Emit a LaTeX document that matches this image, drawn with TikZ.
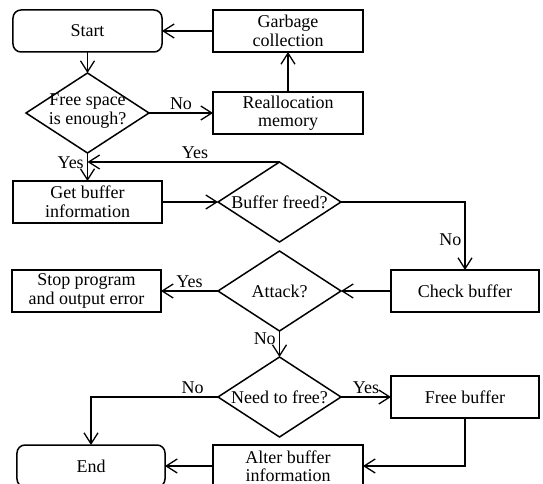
\documentclass[tikz,border=0pt]{standalone}
\usepackage{fontspec}
\setmainfont{Liberation Serif}
\usetikzlibrary{positioning, arrows.meta, shapes.geometric}

% two-line text in a decision, kept from growing the diamond
\newcommand{\dtext}[1]{\raisebox{-0.6ex}{\smash{\begin{tabular}{@{}c@{}}#1\end{tabular}}}}

\begin{document}
\begin{tikzpicture}[
    font=\fontsize{18}{18.5}\selectfont,
    box/.style={draw, rectangle, line width=1.5pt, minimum width=149pt, minimum height=42pt, inner sep=0pt, outer sep=0pt, align=center},
    term/.style={box, rounded corners=8pt},
    dec/.style={draw, diamond, line width=1.5pt, aspect=1.54, minimum width=123pt, minimum height=80pt, inner sep=0pt, outer sep=0pt, align=center},
    arr/.style={-{Straight Barb[length=11pt, width=14pt, line width=1.3pt]}, line width=1.5pt},
    lbl/.style={inner sep=3pt}
]
    \useasboundingbox (-87.5pt,31pt) rectangle (455.5pt,-453pt);

    \node[term] (start) at (0,0) {Start};
    \node[box, minimum width=150pt] (garbage) [right=51pt of start] {Garbage\\collection};
    \node[box, minimum width=150pt] (realloc) [below=40pt of garbage] {Reallocation\\memory};
    \node[dec] (free) at (start |- realloc) {\dtext{Free space\\is enough?}};
    \node[box] (getbuf) [below=28pt of free] {Get buffer\\information};
    \node[dec] (bfreed) [right=56pt of getbuf] {Buffer freed?};
    \node[dec] (attack) [below=9pt of bfreed] {Attack?};
    \node[box, minimum width=148pt] (check) [right=50pt of attack] {Check buffer};
    \node[box] (stop) [left=57pt of attack] {Stop program\\and output error};
    \node[dec] (needfree) [below=26pt of attack] {Need to free?};
    \node[box, minimum width=148pt] (freebuf) [right=50pt of needfree] {Free buffer};
    \node[box, minimum width=150pt] (alter) [below=8pt of needfree, xshift=8.5pt] {Alter buffer\\information};
    \node[term, minimum width=148pt] (end) [left=48pt of alter] {End};

    \draw[arr] (start) -- (free);
    \draw[arr] (garbage) -- (start);
    \draw[arr] (realloc) -- (garbage);
    \draw[arr] (free) -- node[lbl, above] {No} (realloc);
    \draw[arr] (free) -- node[lbl, left, pos=0.35] {Yes} (getbuf);
    \draw[arr] (bfreed.north) -- node[lbl, above, pos=0.44] {Yes} (bfreed.north -| getbuf.north);
    \draw[arr] (getbuf) -- (bfreed);
    \draw[arr] (bfreed.east) -| node[lbl, left, pos=0.78] {No} (check.north);
    \draw[arr] (check) -- (attack);
    \draw[arr] (attack) -- node[lbl, above] {Yes} (stop);
    \draw[arr] (attack) -- node[lbl, left, pos=0.3] {No} (needfree);
    \draw[arr] (needfree.west) -| node[lbl, above, pos=0.1] {No} (end.north);
    \draw[arr] (needfree) -- node[lbl, above] {Yes} (freebuf);
    \draw[arr] (freebuf.south) |- (alter.east);
    \draw[arr] (alter) -- (end);
\end{tikzpicture}
\end{document}
